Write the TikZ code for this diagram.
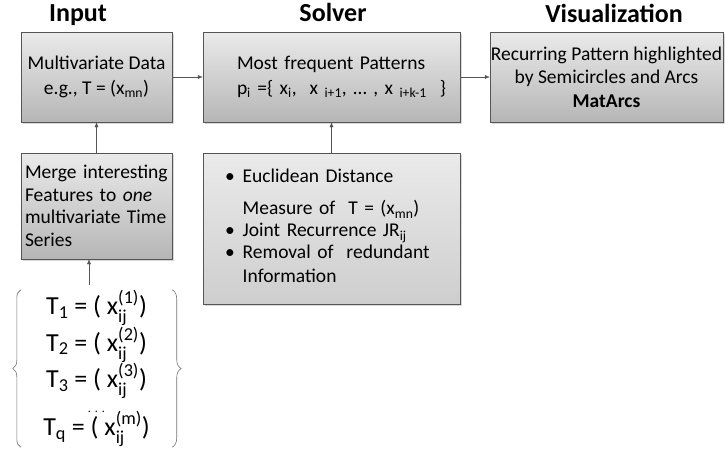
\documentclass[tikz,border=0pt]{standalone}
\usepackage{amsmath}
\usepackage{fontspec}
\setmainfont{Carlito}
\usetikzlibrary{arrows.meta,shadows,decorations.pathreplacing}
\definecolor{boxline}{RGB}{85, 85, 85}
\definecolor{boxtop}{RGB}{234, 234, 234}
\definecolor{boxbottom}{RGB}{182, 182, 182}
\definecolor{listbottom}{RGB}{206, 206, 206}
\definecolor{bracegray}{RGB}{115, 115, 115}
\newcommand{\lowidx}[1]{\ensuremath{_{\text{#1}}}}
\newcommand{\idxpair}[2]{\ensuremath{^{\text{#2}}_{\text{#1}}}}
\tikzset{
  stagebox/.style={draw=boxline, top color=boxtop, bottom color=boxbottom, inner sep=0pt,
                   drop shadow={shadow xshift=1.5pt, shadow yshift=-1.5pt, opacity=0.3},
                   font=\fontsize{19.5}{25}\selectfont},
  stagetitle/.style={anchor=base, font=\bfseries\fontsize{26}{30}\selectfont},
  flow/.style={draw=boxline, -{Latex[length=5pt, width=4pt]}}
}

\begin{document}
\begin{tikzpicture}[x=1pt, y=-1pt]
            \useasboundingbox (0,0) rectangle (725,450);
            % column titles
            \node[stagetitle] (titleinput)  at ( 78.0, 21.5) {Input};
            \node[stagetitle] (titlesolver) at (333.0, 21.5) {Solver};
            \node[stagetitle] (titlevis)    at (614.0, 22.0) {Visualization};
            % boxes
            \node[stagebox, minimum width=151pt, minimum height=90pt, align=center]
                 (inp)   at ( 96.5, 77.0) {Multivariate Data\\e.g., T = (x\lowidx{mn})};
            \node[stagebox, minimum width=257pt, minimum height=90pt, text width=189pt, align=left]
                 (solv)  at (331.5, 77.0) {Most frequent Patterns\\\mbox{p\lowidx{i} =\{ x\lowidx{i}, \ x\lowidx{\ i+1}, \dots\ , x\lowidx{\ i+k-1} \ \}}};
            \node[stagebox, minimum width=233pt, minimum height=90pt, align=center,
                  font=\fontsize{19.5}{23.5}\selectfont]
                 (vis)   at (606.5, 77.0) {Recurring Pattern highlighted\\by Semicircles and Arcs\\\textbf{MatArcs}};
            \node[stagebox, minimum width=151pt, minimum height=106pt, text width=143pt, align=left,
                  font=\fontsize{19.5}{22.6}\selectfont]
                 (merge) at ( 96.5,206.0) {Merge interesting\\Features to \emph{one}\\multivariate Time\\Series};
            \node[stagebox, bottom color=listbottom, minimum width=257pt, minimum height=151pt, text width=213pt, align=left,
                  font=\fontsize{19.5}{22}\selectfont]
                 (feat)  at (331.5,228.5) {\begin{tabular}{@{}l@{\hspace{8pt}}l@{}}
                   \textbullet & Euclidean Distance\\[10pt]
                               & Measure of \ T = (x\lowidx{mn})\\
                   \textbullet & Joint Recurrence JR\lowidx{ij}\\
                   \textbullet & Removal of \ redundant\\[2pt]
                               & Information
                 \end{tabular}};
            % the q time series between braces
            \node[minimum width=151pt, minimum height=157pt, inner sep=0pt, align=center,
                  font=\fontsize{26}{32}\selectfont]
                 (series) at ( 96.5,368.5) {T\lowidx{1} = ( x\idxpair{ij}{(1)})\\
                   T\lowidx{2} = ( x\idxpair{ij}{(2)})\\
                   T\lowidx{3} = ( x\idxpair{ij}{(3)})\\[-7pt]
                   {\fontsize{12}{12}\selectfont .\hspace{4pt}.\hspace{4pt}.}\\[-9pt]
                   T\lowidx{q} = ( x\idxpair{ij}{(m)})};
            \draw[bracegray, line width=0.6pt, decorate, decoration={brace, amplitude=8pt}] (series.south west) -- (series.north west);
            \draw[bracegray, line width=0.6pt, decorate, decoration={brace, amplitude=9pt}] (series.north east) -- (series.south east);
            % connectors
            \draw[flow] (inp)   -- (solv);
            \draw[flow] (solv)  -- (vis);
            \draw[flow] (merge) -- (inp);
            \draw[flow] (feat)  -- (solv);
            \draw[flow] ([xshift=-7.5pt, yshift=5pt]series.north) -- ([xshift=-7.5pt]merge.south);
        \end{tikzpicture}
\end{document}
